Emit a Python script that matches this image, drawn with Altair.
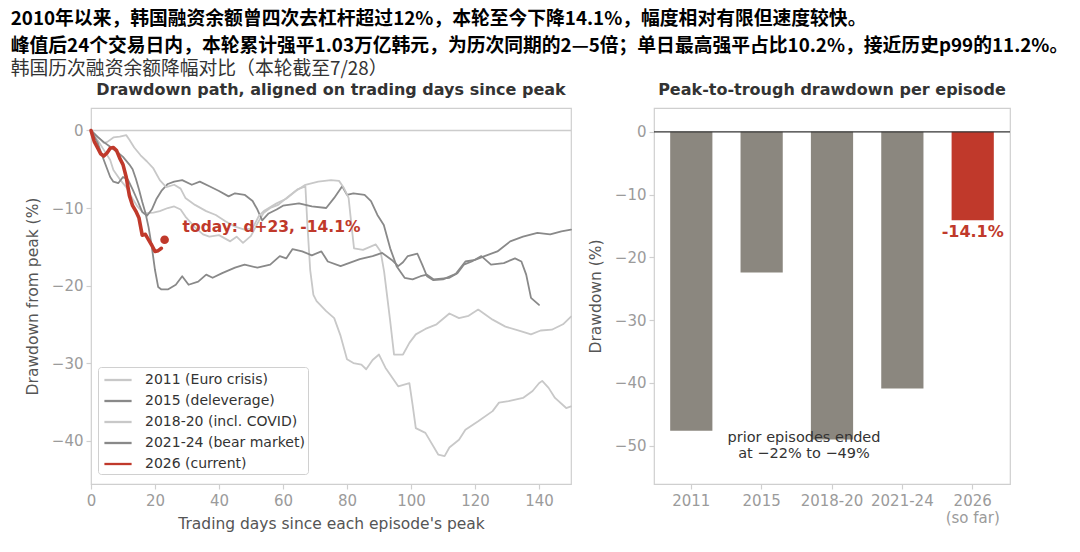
import altair as alt
import pandas as pd

# ---------------- text ----------------
LINE1 = "2010年以来，韩国融资余额曾四次去杠杆超过12%，本轮至今下降14.1%，幅度相对有限但速度较快。"
LINE2 = "峰值后24个交易日内，本轮累计强平1.03万亿韩元，为历次同期的2—5倍；单日最高强平占比10.2%，接近历史p99的11.2%。"
LINE3 = "韩国历次融资余额降幅对比（本轮截至7/28）"
LEFT_TITLE = "Drawdown path, aligned on trading days since peak"
RIGHT_TITLE = "Peak-to-trough drawdown per episode"

# ---------------- left panel data ----------------
series_names = ["2011 (Euro crisis)", "2015 (deleverage)", "2018-20 (incl. COVID)",
                "2021-24 (bear market)", "2026 (current)"]
series_colors = ["#c8c8c8", "#898989", "#c8c8c8", "#898989", "#c0392b"]
CURRENT = "2026 (current)"

days_2011 = [0, 2, 4, 6, 7, 9, 11, 13, 14.5, 16.5, 19.5, 21.5, 24, 26, 28, 29.5, 32.5, 35, 37, 40,
             43.5, 45.5, 47.5, 50, 52, 54, 56, 58.5, 62, 64.5, 67, 67.6, 68.5, 69.5, 70.5, 73.5, 76,
             78, 80, 82, 84.5, 86, 88, 90, 92, 96, 99.5, 100.5, 101.5, 104.5, 108.5, 110.5, 112,
             115, 117, 121, 125.5, 127.5, 130.5, 135, 138, 140, 141, 143, 145, 148.5, 150]
dd_2011 = [0, -1.2, -2.5, -3.8, -5.1, -6.3, -7.3, -8.8, -9.8, -10.7, -10.6, -10.4, -10.0, -9.8,
           -10.2, -11.1, -12.5, -13.4, -13.7, -13.5, -14.3, -13.7, -14.5, -13.6, -12.0, -10.6,
           -10.0, -9.6, -8.4, -7.6, -7.2, -12.0, -18.0, -21.2, -22.0, -23.3, -24.2, -26.5, -29.5,
           -30.0, -30.2, -30.8, -29.6, -28.9, -30.6, -33.0, -32.6, -35.4, -38.4, -39.0, -41.8,
           -42.0, -40.9, -39.9, -38.6, -37.5, -36.2, -35.1, -34.9, -34.5, -33.6, -32.6, -32.3,
           -33.2, -34.5, -35.8, -35.6]

days_2015 = [0, 2, 4, 6, 7, 8.5, 10, 11.5, 13, 14.5, 16, 17.5, 19, 20.5, 22, 24, 26, 28.5, 31.5,
             34, 37, 40, 43, 45, 48, 50.5, 52, 53.5, 55.5, 58, 60, 65, 69, 73.5, 76, 78.5, 80, 82,
             85.5, 87.5, 89.5, 91.5, 93.5, 95.5, 98, 100.5, 103, 105, 107, 112, 114.5, 116.5, 119,
             122, 125, 129, 132.5, 134.5, 136, 137.5, 140]
dd_2015 = [0, -1.5, -3.8, -6.0, -6.6, -6.8, -6.0, -6.3, -7.6, -9.0, -10.5, -11.0, -10.2, -8.8,
           -7.8, -6.9, -6.6, -6.4, -7.0, -6.6, -7.2, -7.8, -8.5, -8.1, -8.3, -9.1, -10.2, -11.6,
           -10.7, -10.2, -9.7, -9.4, -9.8, -10.0, -8.7, -7.2, -8.3, -8.1, -8.3, -9.1, -10.9, -12.2,
           -15.2, -17.5, -19.0, -19.2, -18.8, -18.6, -19.2, -19.0, -18.4, -17.3, -16.9, -16.2,
           -17.3, -17.1, -16.5, -16.9, -18.6, -21.6, -22.5]

days_2018 = [0, 2, 4, 5, 7, 9, 11, 12, 13.5, 15.5, 17.5, 19.5, 21.5, 23.5, 26, 28, 29.5, 32.5,
             36, 39, 42, 45, 48, 50.5, 52.5, 54, 58, 61, 64, 67, 71, 75, 77.5, 79, 80.5, 81.5,
             82.2, 85, 89, 90.5, 91.6, 93.5, 94.7, 97.5, 99.5, 101.5, 104.5, 108, 112, 115, 118,
             121, 125.5, 129.5, 134.5, 137.5, 140.5, 144, 147.5, 150]
dd_2018 = [0, -0.8, -1.6, -1.5, -0.9, -0.8, -0.6, -1.2, -2.2, -3.2, -4.0, -4.9, -6.4, -7.3, -7.0,
           -7.5, -8.7, -9.6, -10.4, -10.9, -11.7, -12.4, -12.8, -12.6, -11.0, -10.4, -9.4, -8.8,
           -7.8, -7.0, -6.6, -6.4, -6.5, -7.4, -8.7, -12.6, -15.2, -15.4, -14.7, -15.6, -18.2,
           -24.6, -28.9, -28.9, -27.4, -26.3, -25.6, -25.0, -23.6, -24.2, -23.9, -23.1, -24.4,
           -25.3, -25.9, -26.3, -25.8, -25.7, -25.0, -24.0]

days_2021 = [0, 2, 4, 6, 8, 10, 12, 13, 14, 15, 16, 17, 18, 19, 20, 21, 22, 24, 26.5, 28.5,
             30.5, 33.5, 36, 38, 41, 45, 48, 52, 56, 59, 61, 63, 66, 69, 72, 74, 78, 84, 88, 91,
             94, 96, 97.5, 99, 102, 103.5, 105, 107, 110, 114, 117, 120, 123, 127, 131, 135,
             139.5, 143.5, 147, 150]
dd_2021 = [0, -0.8, -1.5, -2.1, -2.7, -3.4, -4.4, -5.0, -6.2, -7.6, -9.2, -10.6, -12.5, -15.0,
           -18.0, -20.2, -20.5, -20.5, -19.9, -18.8, -19.9, -19.5, -18.6, -19.0, -18.4, -17.7,
           -17.3, -17.7, -17.3, -16.2, -16.5, -15.3, -15.6, -16.1, -15.6, -16.9, -17.5, -16.6,
           -16.2, -15.8, -16.7, -17.5, -17.0, -16.2, -15.9, -17.3, -18.8, -19.3, -19.2, -18.5,
           -16.9, -16.7, -16.2, -15.6, -14.3, -13.7, -13.2, -13.4, -13.0, -12.8]

days_2026 = [0, 1, 2, 3, 4, 5, 6, 7, 8, 9, 10, 11, 12, 13, 14, 15, 16, 17, 18, 19, 20, 21, 22]
dd_2026 = [0, -1.4, -2.2, -3.0, -3.3, -2.9, -2.3, -2.2, -2.6, -3.6, -4.4, -6.0, -8.4, -9.7,
           -10.4, -11.3, -13.5, -13.4, -14.1, -14.8, -15.6, -15.5, -15.2]

today_day = 23
today_dd = -14.1

x_ticks = [0, 20, 40, 60, 80, 100, 120, 140]
y_ticks_left = [0, -10, -20, -30, -40]

# ---------------- right panel data ----------------
episodes = ["2011", "2015", "2018-20", "2021-24", "2026"]
troughs = [-47.6, -22.4, -49.0, -40.9, -14.1]
bar_colors = ["#8b877f", "#8b877f", "#8b877f", "#8b877f", "#c0392b"]
y_ticks_right = [0, -10, -20, -30, -40, -50]
note_lines = ["prior episodes ended", "at \u221222% to \u221249%"]

RED = "#c0392b"
FONT = "DejaVu Sans"
CJK = "Noto Sans CJK SC"

# ---------------- build tables ----------------
rows = []
for name, ds, vs in zip(series_names,
                        [days_2011, days_2015, days_2018, days_2021, days_2026],
                        [dd_2011, dd_2015, dd_2018, dd_2021, dd_2026]):
    for d, v in zip(ds, vs):
        rows.append({"series": name, "day": d, "dd": v})
lines_df = pd.DataFrame(rows)
one = pd.DataFrame({"k": [0]})

x_scale = alt.Scale(domain=[0, 150], nice=False, zero=False)
y_scale = alt.Scale(domain=[-45.6, 2.9], nice=False)

legend = alt.Legend(
    title=None, orient="none", legendX=7, legendY=259,
    symbolType="M-1.6,0L1.6,0", symbolSize=289, symbolOffset=7, symbolStrokeWidth=2.3,
    labelFont=FONT, labelFontSize=14, labelColor="#333333", labelOffset=17,
    rowPadding=4, padding=3,
    fillColor="white", strokeColor="#d0d0d0", cornerRadius=3,
)

lines = alt.Chart(lines_df).mark_line(strokeCap="round", strokeJoin="round").encode(
    x=alt.X("day:Q", scale=x_scale,
            axis=alt.Axis(values=x_ticks, format="d", labelFlush=False,
                          title="Trading days since each episode's peak")),
    y=alt.Y("dd:Q", scale=y_scale,
            axis=alt.Axis(values=y_ticks_left, format="d", title="Drawdown from peak (%)")),
    color=alt.Color("series:N", scale=alt.Scale(domain=series_names, range=series_colors),
                    legend=legend),
    strokeWidth=alt.condition(f"datum.series == '{CURRENT}'", alt.value(3.6), alt.value(1.8)),
)

zero_left = alt.Chart(one).mark_rule(color="#cccccc", strokeWidth=1.3).encode(y=alt.datum(0))

dot = alt.Chart(one).mark_circle(size=75, color=RED, opacity=1).encode(
    x=alt.datum(today_day), y=alt.datum(today_dd))

today_txt = alt.Chart(one).mark_text(
    align="left", baseline="middle", dx=18, dy=-13, font=FONT, fontSize=15.5,
    fontWeight="bold", color=RED,
).encode(x=alt.datum(today_day), y=alt.datum(today_dd),
         text=alt.value(f"today: d+{today_day}, {today_dd}%"))

left = alt.layer(zero_left, lines, dot, today_txt).properties(
    width=480, height=376,
    title=alt.TitleParams(LEFT_TITLE, font=FONT, fontSize=16, fontWeight="bold",
                          color="#333333", anchor="middle", offset=10),
)

bars_df = pd.DataFrame({"episode": episodes, "trough": troughs, "col": bar_colors})

xb = alt.X("episode:N", sort=episodes,
           scale=alt.Scale(domain=episodes, paddingInner=0.4, paddingOuter=0.23),
           axis=alt.Axis(title=None, labelAngle=0,
                         labelExpr="datum.value == '2026' ? ['2026', '(so far)'] : datum.value"))
yb = alt.Y("trough:Q", scale=alt.Scale(domain=[-56.1, 3.8], nice=False),
           axis=alt.Axis(values=y_ticks_right, format="d", title="Drawdown (%)"))

bars = alt.Chart(bars_df).mark_bar().encode(
    x=xb, y=yb, color=alt.Color("col:N", scale=None))

zero_right = alt.Chart(one).mark_rule(color="#333333", strokeWidth=1.3).encode(y=alt.datum(0))

bar_lbl = alt.Chart(bars_df).transform_filter("datum.episode == '2026'").transform_calculate(
    lbl="toString(datum.trough) + '%'"
).mark_text(baseline="middle", dy=12, font=FONT, fontSize=16, fontWeight="bold",
            color=RED).encode(x=xb, y=yb, text="lbl:N")

note = alt.Chart(one).mark_text(
    align="center", baseline="middle", dx=-28, dy=-8, font=FONT, fontSize=14.5,
    color="#333333", lineHeight=16.5,
).encode(x=alt.datum("2018-20"), y=alt.datum(-50), text=alt.value(note_lines))

right = alt.layer(bars, zero_right, bar_lbl, note).properties(
    width=356, height=376,
    title=alt.TitleParams(RIGHT_TITLE, font=FONT, fontSize=16, fontWeight="bold",
                          color="#333333", anchor="middle", offset=10),
)

chart = alt.hconcat(left, right, spacing=14).resolve_scale(
    color="independent"
).properties(
    padding={"left": 2, "top": 2, "right": 0, "bottom": 2},
    title=alt.TitleParams(
        text=[LINE1, LINE2], subtitle=[LINE3], anchor="start", dx=-14,
        font=CJK, fontSize=18.8, fontWeight="bold", color="#000000", lineHeight=26.5,
        subtitleFont=CJK, subtitleFontSize=18.8, subtitleColor="#333333",
        subtitleFontWeight="normal", subtitlePadding=4, offset=3,
    ),
).configure_view(
    stroke="#cfcfcf", strokeWidth=1.2
).configure_axis(
    domain=False, grid=False, tickColor="#cfcfcf", tickSize=5, tickWidth=1.2,
    labelColor="#9b9b9b", labelFont=FONT, labelFontSize=15, labelPadding=3,
    titleColor="#555555", titleFont=FONT, titleFontSize=15.5, titleFontWeight="normal",
).configure_axisX(
    labelPadding=4, titlePadding=8
).configure_axisY(
    titlePadding=11
)

chart.save("out.html", embed_options={"renderer": "svg", "actions": False})
